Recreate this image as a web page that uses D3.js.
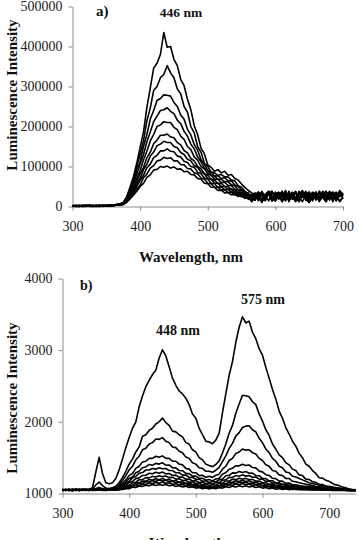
<!DOCTYPE html>
<html>
<head>
<meta charset="utf-8">
<script src="https://d3js.org/d3.v7.min.js"></script>
<style>
  html, body { margin: 0; padding: 0; background: #fff; }
  svg { display: block; font-family: "Liberation Serif", "Times New Roman", serif; }
  .axis path, .axis line { stroke: #8c8c8c; stroke-width: 1; }
  .axis text { font-size: 14px; fill: #222; font-family: "Liberation Serif", serif; }
  .label { font-weight: bold; fill: #111; }
</style>
</head>
<body>
<svg id="chart" width="359" height="540"></svg>
<script>
// panel a: wavelength grid (nm) and intensities, stored in thousands
const waveA = d3.range(300, 701, 5);
const ticksXA = [300, 400, 500, 600, 700];
const ticksYA = [0, 100000, 200000, 300000, 400000, 500000];

const a1 = [2,1,3,0,2,4,1,2,3,1, 2,4,3,5,6,10,24,48,74,108, 148,186,248,296,346,358,380,435,398,400,
  368,352,318,302,268,242,202,180,146,132, 104,98,88,92,84,88,78,80,70,66, 56,48,40,34,30,22,38,18,33,14,
  36,26,12,38,20,32,16,30,40,22, 14,34,26,18,38,28,16,36,24,40, 30];
const a2 = [1,3,0,2,1,3,2,0,2,3, 1,3,4,4,7,9,22,44,68,98, 132,164,214,246,290,300,322,330,352,334,
  322,294,282,250,236,200,184,150,136,108, 100,86,84,78,80,74,74,66,64,52, 48,38,32,24,30,36,16,30,38,20,
  14,34,24,40,18,30,36,14,28,38, 22,34,16,38,24,30,36,18,34,26, 32];
const a3 = [2,0,1,3,2,1,0,3,2,1, 3,2,3,5,6,8,20,40,62,88, 112,150,180,218,240,265,270,279,278,276,
  260,250,229,218,193,179,155,141,117,106, 90,86,76,77,70,72,64,64,54,50, 42,36,26,30,34,18,36,26,14,36,
  28,20,38,16,32,24,34,18,36,30, 14,28,36,22,30,38,18,32,26,36, 28];
const a4 = [0,2,1,2,3,0,2,1,3,2, 1,3,2,4,6,8,19,37,56,80, 106,130,162,186,212,226,240,242,247,238,
  232,216,207,188,176,156,144,124,112,96, 90,78,76,68,68,62,62,54,52,42, 40,30,34,22,16,36,28,14,34,38,
  18,30,24,36,12,28,38,20,32,16, 36,24,34,18,28,38,20,30,36,24, 34];
const a5 = [3,1,2,0,1,2,3,1,0,2, 3,1,3,4,5,7,17,33,50,70, 90,117,138,164,180,200,204,212,210,210,
  198,192,176,168,150,142,124,116,100,94, 82,78,68,68,60,60,53,52,43,42, 33,36,22,30,32,16,34,20,38,26,
  14,32,36,18,28,34,16,38,24,30, 18,36,28,12,34,22,38,30,16,36, 26];
const a6 = [1,2,0,3,1,2,1,3,2,0, 2,3,2,4,5,7,15,29,44,62, 82,98,122,136,157,166,178,178,181,174,
  172,160,154,140,134,120,114,100,94,82, 78,68,66,58,58,50,50,42,42,34, 34,26,30,18,28,34,14,30,36,20,
  32,18,38,14,34,28,16,36,24,32, 12,34,20,38,28,16,32,36,14,34, 28];
const a7 = [2,0,2,1,3,1,2,0,3,1, 2,2,3,5,5,6,14,27,40,56, 70,92,106,126,136,152,156,163,160,160,
  150,147,135,130,118,114,102,98,86,82, 70,68,58,58,50,50,43,44,36,36, 28,30,20,26,32,14,34,18,30,38,
  14,28,34,16,38,24,12,30,38,20, 30,14,36,24,34,18,30,12,28,36, 20];
const a8 = [0,1,3,2,0,2,1,2,1,3, 1,2,3,3,4,6,13,24,36,50, 66,78,97,106,122,128,139,139,144,138,
  137,126,124,113,110,100,98,86,82,71, 68,58,57,48,49,42,43,36,36,29, 30,22,28,16,26,32,12,28,36,16,
  30,36,14,26,34,18,36,24,12,30, 36,16,26,32,22,14,34,30,18,32, 26];
const a9 = [1,3,1,0,2,1,3,2,0,2, 3,1,2,4,4,5,12,22,32,44, 54,72,81,96,102,114,116,123,120,122,
  114,114,105,104,95,94,84,82,71,68, 58,57,48,48,41,42,35,36,29,30, 24,28,18,24,16,30,12,26,34,14,
  26,32,14,30,18,36,22,12,32,20, 10,30,34,16,26,12,32,20,28,14, 24];
const a10 = [2,1,0,2,3,2,0,1,2,3, 2,1,2,3,4,5,10,19,28,38, 50,58,73,79,91,93,100,98,101,96,
  99,93,94,87,88,80,79,70,68,58, 57,48,48,40,41,34,35,29,31,25, 27,20,24,12,22,28,10,26,32,14,
  24,30,12,26,16,32,22,14,28,18, 10,26,30,14,24,12,30,20,26,12, 22];
const seriesA = [a1, a2, a3, a4, a5, a6, a7, a8, a9, a10];

// panel b: wavelength grid (nm) and intensities
const waveB = d3.range(300, 741, 5);
const ticksXB = [300, 400, 500, 600, 700];
const ticksYB = [1000, 2000, 3000, 4000];

const b1 = [1060,1045,1055,1040,1058,1050,1062,1048,1055,1080, 1300,1505,1280,1150,1135,1150,1210,1330,1480,1640,
  1780,1910,2000,2210,2360,2490,2580,2660,2720,2890, 3005,2920,2770,2610,2510,2430,2390,2330,2240,2110,
  2050,1910,1820,1730,1720,1695,1745,1840,2130,2390, 2650,2840,3110,3320,3465,3380,3405,3250,3160,3020,
  2930,2760,2610,2450,2320,2150,2050,1920,1830,1730, 1660,1560,1500,1410,1380,1320,1280,1220,1215,1185,
  1170,1140,1120,1110,1090,1080,1060,1050,1045];
const b2 = [1050,1058,1042,1055,1048,1060,1045,1052,1058,1065, 1120,1160,1110,1075,1070,1080,1100,1150,1220,1310,
  1410,1480,1580,1650,1800,1820,1880,1910,1970,2000, 2055,1990,1950,1870,1860,1820,1790,1710,1690,1610,
  1580,1500,1470,1410,1390,1375,1405,1455,1565,1690, 1840,1950,2120,2250,2370,2365,2350,2280,2240,2110,
  2010,1890,1810,1690,1620,1540,1500,1430,1400,1340, 1320,1260,1250,1200,1195,1165,1155,1125,1125,1105,
  1100,1090,1080,1075,1070,1065,1060,1055,1050];
const b3 = [1045,1055,1050,1040,1060,1052,1048,1058,1050,1055, 1070,1085,1068,1060,1065,1075,1090,1120,1180,1250,
  1330,1380,1470,1520,1610,1630,1690,1710,1760,1755, 1780,1730,1710,1650,1640,1590,1570,1510,1490,1430,
  1410,1360,1350,1310,1310,1295,1325,1365,1445,1525, 1630,1700,1800,1850,1920,1940,1945,1890,1860,1770,
  1710,1620,1570,1490,1450,1380,1360,1300,1290,1240, 1230,1210,1190,1170,1150,1140,1130,1120,1110,1100,
  1090,1085,1078,1072,1068,1060,1058,1052,1048];
const b4 = [1055,1042,1058,1050,1045,1060,1050,1044,1056,1050, 1060,1068,1058,1055,1060,1068,1080,1100,1140,1190,
  1250,1280,1350,1380,1440,1450,1490,1490,1520,1505, 1525,1490,1490,1450,1450,1410,1400,1350,1340,1290,
  1290,1250,1255,1225,1240,1225,1255,1270,1340,1380, 1460,1490,1560,1580,1620,1605,1610,1570,1550,1490,
  1460,1400,1380,1320,1310,1260,1250,1210,1210,1170, 1165,1150,1140,1130,1120,1110,1100,1095,1090,1085,
  1080,1075,1070,1065,1060,1058,1055,1050,1048];
const b5 = [1048,1056,1044,1052,1058,1046,1054,1050,1042,1052, 1058,1062,1055,1050,1056,1062,1072,1090,1120,1160,
  1210,1230,1290,1310,1360,1370,1405,1395,1420,1410, 1428,1395,1398,1360,1358,1320,1318,1280,1278,1242,
  1242,1212,1212,1186,1196,1176,1203,1212,1268,1292, 1338,1352,1388,1386,1408,1390,1398,1362,1358,1312,
  1302,1262,1252,1212,1207,1172,1172,1142,1146,1122, 1120,1112,1105,1100,1095,1090,1086,1082,1078,1075,
  1072,1068,1064,1060,1058,1055,1052,1050,1046];
const b6 = [1052,1046,1058,1040,1050,1055,1048,1058,1050,1045, 1055,1060,1052,1048,1055,1060,1068,1082,1105,1140,
  1168,1218,1238,1282,1292,1328,1328,1350,1340,1358, 1345,1348,1320,1320,1290,1290,1257,1258,1224,1226,
  1198,1200,1172,1178,1154,1168,1160,1192,1202,1248, 1254,1288,1284,1308,1294,1306,1282,1284,1252,1248,
  1212,1208,1177,1178,1148,1150,1125,1130,1108,1116, 1100,1095,1090,1086,1082,1078,1075,1072,1070,1066,
  1064,1060,1058,1055,1052,1050,1048,1046,1044];
const b7 = [1044,1054,1048,1058,1042,1050,1056,1044,1052,1048, 1052,1056,1050,1046,1052,1056,1062,1074,1092,1118,
  1152,1168,1208,1218,1252,1255,1282,1275,1296,1282, 1300,1274,1280,1252,1256,1228,1230,1200,1203,1174,
  1180,1154,1160,1137,1148,1130,1152,1150,1186,1192, 1226,1224,1250,1240,1260,1242,1252,1226,1230,1200,
  1200,1170,1173,1144,1150,1124,1132,1108,1118,1096, 1098,1092,1088,1084,1080,1076,1072,1070,1066,1064,
  1062,1058,1056,1054,1050,1048,1046,1044,1042];
const b8 = [1050,1042,1056,1046,1054,1040,1052,1058,1046,1050, 1048,1054,1046,1050,1048,1052,1058,1068,1082,1100,
  1115,1152,1158,1192,1193,1222,1218,1239,1229,1247, 1235,1243,1221,1225,1201,1205,1181,1183,1158,1162,
  1139,1145,1123,1131,1113,1125,1115,1141,1143,1175, 1175,1199,1193,1212,1199,1211,1191,1197,1173,1175,
  1149,1152,1128,1133,1111,1117,1097,1105,1087,1097, 1086,1082,1078,1075,1072,1070,1068,1066,1064,1062,
  1060,1058,1055,1052,1050,1048,1046,1045,1043];
const b9 = [1046,1052,1040,1054,1048,1056,1042,1050,1054,1046, 1050,1046,1052,1044,1050,1048,1054,1062,1074,1088,
  1111,1115,1145,1148,1175,1173,1195,1187,1205,1193, 1209,1189,1197,1175,1181,1159,1165,1141,1147,1125,
  1131,1111,1117,1098,1109,1093,1111,1107,1135,1135, 1161,1157,1177,1168,1183,1167,1177,1155,1161,1137,
  1141,1118,1124,1103,1111,1091,1100,1081,1091,1073, 1077,1074,1071,1068,1066,1064,1062,1060,1058,1056,
  1055,1053,1051,1050,1048,1046,1045,1043,1042];
const b10 = [1042,1050,1056,1044,1052,1046,1058,1048,1042,1054, 1046,1052,1048,1054,1046,1050,1052,1058,1068,1080,
  1087,1115,1115,1143,1141,1165,1159,1179,1169,1187, 1175,1183,1163,1169,1149,1155,1133,1139,1117,1123,
  1103,1111,1091,1101,1083,1096,1085,1107,1105,1131, 1127,1149,1141,1157,1145,1157,1139,1147,1125,1131,
  1109,1115,1095,1103,1083,1093,1075,1085,1067,1078, 1068,1066,1064,1062,1060,1058,1056,1055,1054,1052,
  1051,1050,1049,1048,1046,1045,1044,1043,1042];
const b11 = [1054,1046,1050,1058,1044,1052,1048,1056,1050,1044, 1052,1048,1044,1050,1046,1052,1050,1056,1062,1072,
  1091,1089,1113,1109,1133,1127,1147,1138,1155,1143, 1159,1141,1149,1129,1137,1117,1125,1105,1113,1093,
  1102,1083,1093,1075,1087,1072,1089,1081,1105,1101, 1123,1115,1133,1123,1138,1123,1133,1113,1121,1101,
  1109,1089,1097,1078,1087,1069,1080,1063,1074,1057, 1062,1060,1058,1057,1056,1055,1054,1053,1052,1051,
  1050,1049,1048,1047,1046,1045,1044,1043,1042];
const b12 = [1040,1050,1046,1052,1058,1042,1050,1046,1054,1048, 1044,1050,1046,1042,1048,1046,1050,1052,1058,1066,
  1067,1089,1083,1105,1097,1117,1107,1124,1112,1127, 1114,1125,1107,1117,1099,1109,1091,1101,1083,1093,
  1075,1085,1068,1079,1063,1077,1065,1083,1075,1095, 1085,1103,1091,1107,1094,1107,1091,1101,1083,1093,
  1075,1085,1067,1077,1060,1071,1055,1067,1051,1063, 1055,1054,1053,1052,1051,1050,1049,1048,1047,1046,
  1045,1044,1043,1042,1041,1040,1040,1039,1038];
const seriesB = [b1, b2, b3, b4, b5, b6, b7, b8, b9, b10, b11, b12];

const svg = d3.select('#chart');

function drawPanel(p) {
  const g = svg.append('g');
  const x = d3.scaleLinear().domain(p.xDomain).range(p.xRange);
  const y = d3.scaleLinear().domain(p.yDomain).range(p.yRange);

  g.append('g')
    .attr('class', 'axis')
    .attr('transform', `translate(0,${p.yRange[0]})`)
    .call(d3.axisBottom(x).tickValues(p.xTicks).tickSize(4).tickSizeOuter(0).tickPadding(11).tickFormat(d3.format('d')));

  g.append('g')
    .attr('class', 'axis')
    .attr('transform', `translate(${p.xRange[0]},0)`)
    .call(d3.axisLeft(y).tickValues(p.yTicks).tickSize(4).tickSizeOuter(0).tickPadding(6).tickFormat(d3.format('d')));

  g.selectAll('.domain').attr('stroke', '#8c8c8c');

  const line = d3.line()
    .x((d, i) => x(p.wave[i]))
    .y(d => y(d * p.unit));

  g.append('g')
    .selectAll('path')
    .data(p.series)
    .enter()
    .append('path')
    .attr('d', line)
    .attr('fill', 'none')
    .attr('stroke', '#000')
    .attr('stroke-width', 1.6)
    .attr('stroke-linejoin', 'round');

  // axis titles and annotations
  g.append('text')
    .attr('class', 'label')
    .attr('font-size', 15)
    .attr('text-anchor', 'middle')
    .attr('transform', `translate(${p.yTitle[0]},${p.yTitle[1]}) rotate(-90)`)
    .text('Luminescence Intensity');

  g.append('text')
    .attr('class', 'label')
    .attr('font-size', 15)
    .attr('text-anchor', 'middle')
    .attr('x', p.xTitle[0])
    .attr('y', p.xTitle[1])
    .text('Wavelength, nm');

  p.notes.forEach(n => {
    g.append('text')
      .attr('class', 'label')
      .attr('font-size', n.size)
      .attr('text-anchor', n.anchor)
      .attr('x', n.x)
      .attr('y', n.y)
      .text(n.text);
  });
}

drawPanel({
  wave: waveA, series: seriesA, unit: 1000,
  xDomain: [300, 700], xRange: [72.5, 343],
  yDomain: [0, 500000], yRange: [206.5, 6.5],
  xTicks: ticksXA, yTicks: ticksYA,
  yTitle: [17, 95], xTitle: [191, 262],
  notes: [
    { text: 'a)', x: 96, y: 16, size: 15, anchor: 'start' },
    { text: '446 nm', x: 181, y: 17, size: 13.5, anchor: 'middle' }
  ]
});

drawPanel({
  wave: waveB, series: seriesB, unit: 1,
  xDomain: [300, 740], xRange: [62.5, 355.8],
  yDomain: [1000, 4000], yRange: [493.5, 278.5],
  xTicks: ticksXB, yTicks: ticksYB,
  yTitle: [17, 398], xTitle: [201, 548],
  notes: [
    { text: 'b)', x: 80, y: 290, size: 14, anchor: 'start' },
    { text: '575 nm', x: 263, y: 304, size: 14, anchor: 'middle' },
    { text: '448 nm', x: 178, y: 335, size: 14, anchor: 'middle' }
  ]
});
</script>
</body>
</html>
